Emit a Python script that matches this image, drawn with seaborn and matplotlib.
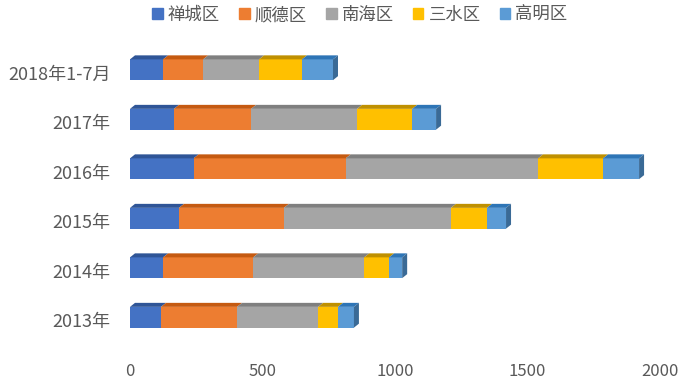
import pandas as pd
import seaborn as sns
import matplotlib.pyplot as plt
import matplotlib.transforms as mtransforms
from matplotlib.patches import Patch, Polygon

# datos
anios = ['2018年1-7月', '2017年', '2016年', '2015年', '2014年', '2013年']
chancheng = [125, 166, 240, 185, 125, 117]
shunde = [151, 291, 574, 396, 340, 287]
nanhai = [211, 400, 726, 630, 419, 306]
sanshui = [162, 208, 245, 136, 94, 75]
gaoming = [117, 90, 136, 72, 49, 60]

distritos = ['禅城区', '顺德区', '南海区', '三水区', '高明区']
colores = ['#4472C4', '#ED7D31', '#A5A5A5', '#FFC000', '#5B9BD5']
colores_top = ['#2F5597', '#C55A11', '#7F7F7F', '#BF9000', '#2E75B6']

df = pd.DataFrame({'Anio': anios, '禅城区': chancheng, '顺德区': shunde,
                   '南海区': nanhai, '三水区': sanshui, '高明区': gaoming})

# acumulados para apilar
acum = df[distritos].cumsum(axis=1)
acum['Anio'] = df['Anio']

sns.set_theme(style='white')
plt.rcParams['font.family'] = ['Noto Sans CJK SC', 'DejaVu Sans']

fig = plt.figure(figsize=(6.87, 3.85), dpi=100)
ax = fig.add_axes([130 / 687, 1 - 342 / 385, 530 / 687, 297 / 385])

# se dibuja del mayor al menor para que se vea apilado
for i in reversed(range(len(distritos))):
    sns.barplot(data=acum, x=distritos[i], y='Anio', color=colores[i],
                saturation=1, width=0.42, ax=ax, linewidth=0)

ax.set_xlim(0, 2000)
ax.set_xticks([0, 500, 1000, 1500, 2000])
ax.set_xlabel('')
ax.set_ylabel('')
sns.despine(ax=ax, left=True, bottom=True)
ax.tick_params(axis='x', length=0, pad=15, labelsize=12, labelcolor='#595959')
ax.tick_params(axis='y', length=0, pad=14, labelsize=13, labelcolor='#595959')

# bajar un poco las etiquetas del eje y
bajar = mtransforms.ScaledTranslation(0, -3 / 100, fig.dpi_scale_trans)
for lab in ax.get_yticklabels():
    lab.set_transform(lab.get_transform() + bajar)

# efecto 3D: cara superior y lateral
dx = 5 * 2000 / 530
dy = 4 * 6 / 297
n = len(anios)
for i in range(len(distritos)):
    for p in ax.patches[(len(distritos) - 1 - i) * n:(len(distritos) - i) * n]:
        y = p.get_y()
        h = p.get_height()
        x1 = p.get_x() + p.get_width()
        x0 = x1 - df[distritos[i]].iloc[round(p.get_y() + h / 2)]
        ax.add_patch(Polygon([(x0, y), (x1, y), (x1 + dx, y - dy), (x0 + dx, y - dy)],
                             closed=True, color=colores_top[i], lw=0, clip_on=False))
        if i == len(distritos) - 1:
            ax.add_patch(Polygon([(x1, y), (x1 + dx, y - dy), (x1 + dx, y + h - dy), (x1, y + h)],
                                 closed=True, color='#3A6A96', lw=0, clip_on=False))

handles = [Patch(color=c, label=d) for c, d in zip(colores, distritos)]
fig.legend(handles=handles, loc='center', bbox_to_anchor=(360 / 687, 1 - 15 / 385), ncol=5,
           frameon=False, fontsize=12.5, handlelength=0.6, handleheight=0.6,
           handletextpad=0.3, columnspacing=1.1, labelcolor='#595959')

plt.savefig('out.png', dpi=100)
